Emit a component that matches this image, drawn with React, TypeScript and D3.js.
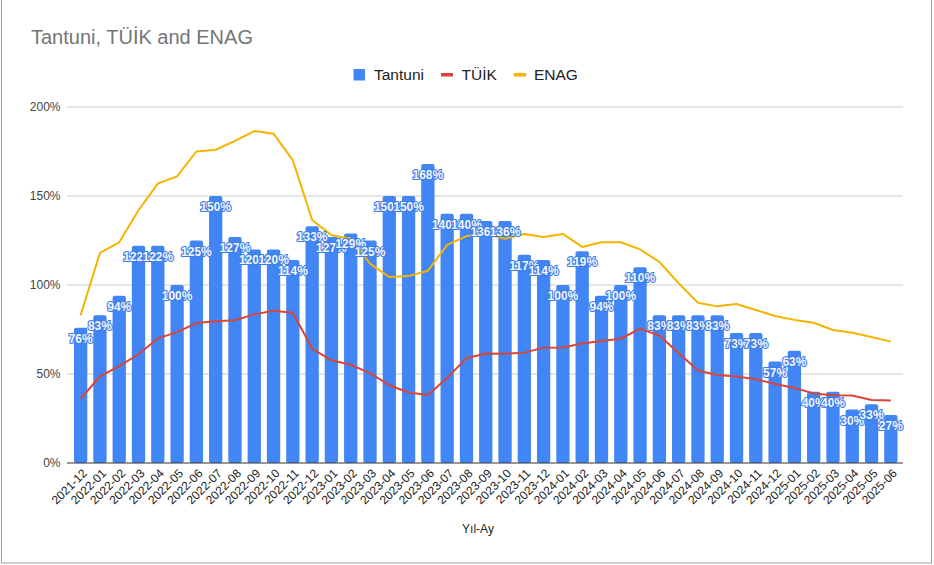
import React from "react";
import * as d3 from "d3";

const months = [
  "2021-12","2022-01","2022-02","2022-03","2022-04","2022-05","2022-06","2022-07","2022-08","2022-09","2022-10","2022-11","2022-12",
  "2023-01","2023-02","2023-03","2023-04","2023-05","2023-06","2023-07","2023-08","2023-09","2023-10","2023-11","2023-12",
  "2024-01","2024-02","2024-03","2024-04","2024-05","2024-06","2024-07","2024-08","2024-09","2024-10","2024-11","2024-12",
  "2025-01","2025-02","2025-03","2025-04","2025-05","2025-06",
];

const tantuni = [
  76, 83, 94, 122, 122, 100, 125, 150, 127, 120, 120, 114, 133,
  127, 129, 125, 150, 150, 168, 140, 140, 136, 136, 117, 114,
  100, 119, 94, 100, 110, 83, 83, 83, 83, 73, 73, 57,
  63, 40, 40, 30, 33, 27,
];

const tuik = [
  36.1, 48.7, 54.4, 61.1, 70.0, 73.5, 78.6, 79.6, 80.2, 83.5, 85.5, 84.4, 64.3,
  57.7, 55.2, 50.5, 43.7, 39.6, 38.2, 47.8, 58.9, 61.5, 61.4, 62.0, 64.8,
  64.9, 67.1, 68.5, 69.8, 75.5, 71.6, 61.8, 52.0, 49.4, 48.6, 47.1, 44.4,
  42.1, 39.1, 38.1, 37.9, 35.4, 35.1,
];

const enag = [
  83, 118, 124, 142, 157, 161, 175, 176, 181, 186.5, 185, 170, 136.5,
  128, 126, 112, 104.5, 105, 108, 122.5, 127.5, 128.6, 126, 128.7, 127,
  128.7, 121.4, 124, 124, 120, 113, 101, 90, 88, 89.3, 86, 82.6,
  80.4, 78.8, 74.7, 73.2, 70.8, 68.2,
];

const yTicks = [0, 50, 100, 150, 200];
const seriesNames = ["Tantuni", "TÜİK", "ENAG"];
const colors = ["#4285F4", "#DB4437", "#F4B400"];

const W = 934;
const H = 565;
const FONT = "Arial, 'Liberation Sans', sans-serif";

export default function App() {
  const x = d3.scaleBand<string>().domain(months).range([71, 900.5]).paddingInner(0.31).paddingOuter(0.155);
  const y = d3.scaleLinear().domain([0, 200]).range([463, 107]);
  const bw = x.bandwidth();
  const cx = (m: string) => (x(m) as number) + bw / 2;

  const line = d3
    .line<number>()
    .x((_, i) => cx(months[i]))
    .y((d) => y(d));

  return (
    <svg
      width={W}
      height={H}
      style={{ position: "absolute", left: 0, top: 0, display: "block", background: "#fff" }}
      fontFamily={FONT}
    >
      <rect x={0} y={0} width={W} height={H} fill="#fff" />
      <rect x={1.5} y={-5} width={930} height={568} fill="none" stroke="#9e9e9e" strokeWidth={1} />

      <text x={31} y={44} fontSize={20} fill="#757575">
        Tantuni, TÜİK and ENAG
      </text>

      {/* legend */}
      <g fontSize={15.5} fill="#222">
        <rect x={353.5} y={69} width={11.5} height={11.5} fill={colors[0]} />
        <text x={374} y={80}>{seriesNames[0]}</text>
        <rect x={441} y={73} width={12} height={3.5} fill={colors[1]} />
        <text x={461.5} y={80}>{seriesNames[1]}</text>
        <rect x={514} y={73} width={12} height={3.5} fill={colors[2]} />
        <text x={534} y={80}>{seriesNames[2]}</text>
      </g>

      {/* gridlines */}
      {yTicks.map((t) => (
        <g key={t}>
          {t > 0 && (
            <line x1={67} x2={903} y1={y(t)} y2={y(t)} stroke="#cccccc" strokeWidth={1} />
          )}
          <text x={60.5} y={y(t)} dy="0.35em" textAnchor="end" fontSize={12} fill="#444">
            {t}%
          </text>
        </g>
      ))}

      {/* bars */}
      {tantuni.map((v, i) => (
        <rect
          key={months[i]}
          x={x(months[i])}
          y={y(v)}
          width={bw}
          height={y(0) - y(v)}
          fill={colors[0]}
          rx={2}
        />
      ))}

      {/* lines */}
      <path d={line(tuik) || ""} fill="none" stroke={colors[1]} strokeWidth={2} strokeLinejoin="round" />
      <path d={line(enag) || ""} fill="none" stroke={colors[2]} strokeWidth={2} strokeLinejoin="round" />

      {/* baseline */}
      <line x1={67} x2={903} y1={y(0)} y2={y(0)} stroke="#333" strokeWidth={1} />

      {/* data labels */}
      <g fontSize={12} textAnchor="middle" fontWeight="bold">
        {tantuni.map((v, i) => (
          <text
            key={months[i]}
            x={cx(months[i])}
            y={y(v) + 15}
            fill="#f2f6ff"
            stroke="#3f7fe8"
            strokeWidth={2.2}
            strokeLinejoin="round"
            paintOrder="stroke"
          >
            {v}%
          </text>
        ))}
      </g>

      {/* x tick labels */}
      <g fontSize={12} fill="#222">
        {months.map((m) => (
          <text
            key={m}
            transform={`translate(${cx(m) + 4},${471}) rotate(-45)`}
            textAnchor="end"
            dy="0.35em"
          >
            {m}
          </text>
        ))}
      </g>

      <text x={478} y={533} textAnchor="middle" fontSize={12} fill="#222">
        Yıl-Ay
      </text>
    </svg>
  );
}
